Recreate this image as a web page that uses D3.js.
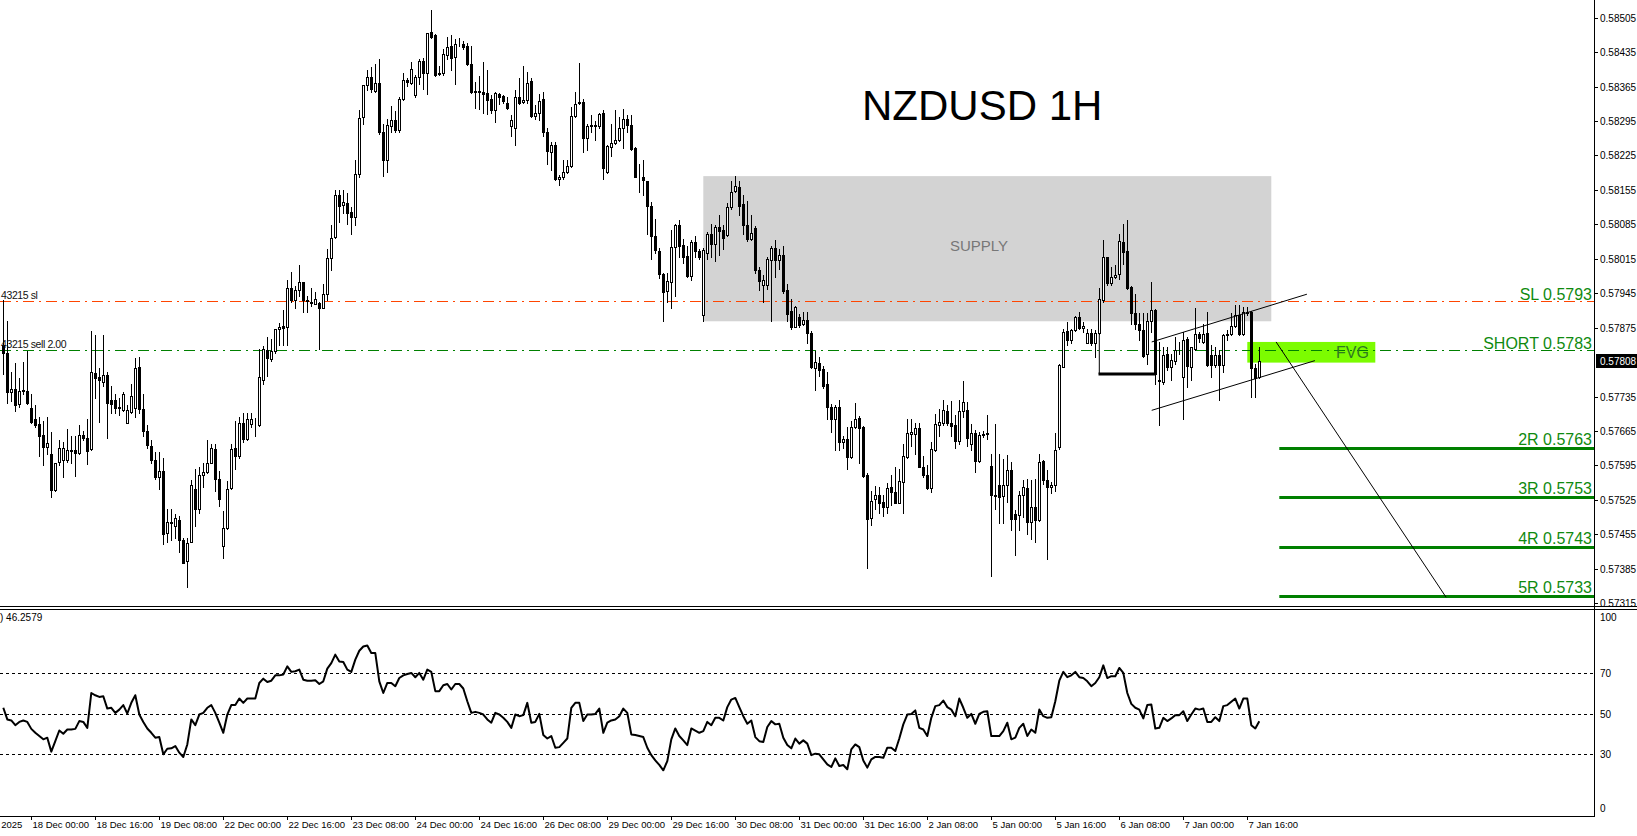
<!DOCTYPE html>
<meta charset="utf-8">
<style>
body { margin: 0; background: #fff; }
svg { display: block; font-family: "Liberation Sans", Arial, sans-serif; }
.axis-text { font-size: 10px; fill: #000; }
.time-text { font-size: 9.5px; fill: #000; }
.order-text { font-size: 10.5px; fill: #111; letter-spacing: -0.4px; }
</style>
<body>
<script src="https://d3js.org/d3.v7.min.js"></script>
<script>

var width = 1637, height = 836,
    plotRight = 1594,
    mainBottom = 606,
    rsiTop = 611, rsiBottom = 816;

// NZDUSD H1 quotes, in points (1 point = 0.00001)
var open = [
  57840,57824,57745,57751,57720,57747,57747,57712,57690,57679,
  57656,57632,57618,57545,57601,57606,57606,57626,57626,57621,
  57656,57650,57629,57783,57774,57765,57779,57729,57728,57711,
  57708,57682,57704,57711,57795,57709,57666,57634,57606,57571,
  57584,57458,57481,57472,57485,57444,57400,57440,57547,57507,
  57575,57581,57600,57629,57567,57432,57468,57549,57630,57614,
  57682,57648,57680,57690,57678,57769,57830,57812,57828,57872,
  57878,57876,57955,57931,57951,57967,57931,57927,57923,57925,
  57915,57943,58016,58060,58145,58125,58128,58111,58099,58187,
  58303,58368,58384,58357,58373,58272,58216,58284,58297,58277,
  58339,58379,58373,58347,58384,58417,58392,58476,58470,58390,
  58392,58430,58448,58426,58452,58451,58448,58410,58356,58353,
  58354,58351,58339,58318,58349,58345,58331,58285,58280,58343,
  58333,58337,58377,58306,58311,58339,58272,58232,58246,58177,
  58181,58192,58204,58306,58331,58333,58260,58284,58286,58284,
  58311,58192,58242,58250,58257,58280,58299,58286,58240,58182,
  58182,58173,58123,58062,58030,57984,57949,57968,58038,58083,
  58044,58020,57980,58050,58030,57901,58026,58066,58046,58080,
  58074,58063,58120,58153,58161,58127,58084,58056,58078,57993,
  57961,57961,58013,58036,58012,58022,57951,57909,57877,57896,
  57882,57891,57864,57793,57803,57790,57761,57713,57690,57713,
  57642,57648,57613,57674,57692,57674,57576,57488,57526,57534,
  57521,57511,57551,57541,57519,57561,57613,57658,57658,57671,
  57592,57576,57549,57626,57678,57682,57705,57682,57678,57645,
  57706,57707,57639,57661,57605,57656,57659,57593,57534,57555,
  57532,57555,57586,57497,57494,57534,57550,57480,57511,57485,
  57605,57566,57551,57555,57633,57795,57868,57850,57871,57896,
  57875,57843,57864,57843,57864,57932,58018,57965,57978,57984,
  58050,58031,57957,57904,57882,57870,57822,57889,57911,57768,
  57765,57822,57795,57808,57829,57774,57851,57795,57831,57863,
  57846,57864,57819,57799,57819,57799,57860,57863,57878,57900,
  57863,57907,57907,57794,57774
];
var high = [
  57931,57888,57785,57804,57773,57806,57828,57741,57717,57694,
  57686,57694,57663,57599,57646,57642,57670,57654,57654,57678,
  57666,57690,57868,57860,57793,57860,57785,57757,57741,57733,
  57745,57717,57761,57814,57816,57741,57678,57646,57622,57622,
  57610,57507,57507,57496,57492,57448,57448,57565,57587,57591,
  57599,57646,57638,57638,57583,57503,57563,57638,57686,57694,
  57701,57701,57701,57692,57832,57838,57856,57852,57872,57885,
  57911,57971,57988,57959,58002,57967,57939,57955,57947,57928,
  57964,58034,58084,58155,58155,58155,58149,58121,58216,58318,
  58368,58398,58405,58410,58421,58288,58299,58326,58315,58343,
  58392,58383,58416,58389,58422,58424,58473,58521,58471,58406,
  58442,58466,58470,58462,58463,58458,58454,58448,58375,58387,
  58416,58398,58347,58355,58351,58347,58343,58307,58359,58383,
  58406,58394,58383,58327,58349,58355,58280,58252,58252,58186,
  58216,58216,58323,58355,58413,58339,58288,58307,58295,58311,
  58318,58246,58289,58318,58303,58319,58307,58307,58242,58208,
  58216,58173,58131,58096,58036,57987,57987,58074,58086,58094,
  58056,58042,58054,58062,58034,58036,58070,58086,58083,58105,
  58083,58128,58173,58183,58173,58145,58133,58105,58082,57998,
  57983,58018,58042,58054,58034,58040,57963,57933,57919,57903,
  57906,57907,57868,57828,57816,57797,57785,57719,57717,57729,
  57654,57674,57686,57721,57695,57676,57579,57543,57553,57551,
  57535,57560,57575,57591,57587,57638,57690,57690,57682,57682,
  57614,57595,57642,57700,57709,57727,57717,57725,57697,57729,
  57766,57724,57680,57668,57663,57666,57697,57619,57680,57619,
  57609,57616,57602,57504,57544,57565,57568,57565,57568,57619,
  57607,57585,57561,57660,57802,57873,57887,57873,57898,57907,
  57887,57873,57872,57870,57955,58053,58019,57999,58002,58066,
  58085,58094,57959,57943,57904,57904,57904,57968,57912,57846,
  57836,57836,57822,57856,57846,57866,57856,57836,57914,57866,
  57883,57907,57839,57836,57829,57863,57870,57904,57921,57921,
  57917,57917,57908,57802,57836
];
var low = [
  57781,57721,57725,57705,57713,57741,57719,57682,57674,57614,
  57595,57618,57531,57543,57595,57571,57602,57599,57573,57618,
  57646,57597,57626,57733,57683,57757,57650,57701,57701,57697,
  57705,57682,57701,57694,57701,57654,57630,57599,57567,57547,
  57436,57440,57444,57448,57420,57397,57347,57440,57472,57499,
  57551,57579,57599,57543,57513,57407,57466,57547,57587,57610,
  57642,57646,57674,57654,57676,57761,57777,57808,57824,57840,
  57840,57840,57927,57915,57939,57907,57907,57919,57923,57832,
  57915,57931,57993,58058,58090,58109,58086,58066,58083,58181,
  58289,58359,58355,58355,58268,58183,58192,58272,58272,58272,
  58337,58367,58371,58343,58371,58360,58349,58463,58387,58389,
  58389,58422,58398,58371,58448,58442,58408,58351,58321,58319,
  58311,58310,58311,58294,58329,58331,58319,58264,58246,58329,
  58331,58331,58303,58299,58297,58264,58208,58196,58175,58165,
  58177,58189,58202,58303,58329,58232,58236,58272,58256,58280,
  58178,58189,58224,58248,58254,58240,58272,58236,58181,58151,
  58145,58066,58014,58026,57975,57888,57927,57915,57939,58018,
  58006,57977,57972,58018,58014,57888,58014,58018,58010,58022,
  58034,58062,58117,58151,58105,58066,58052,58054,57987,57951,
  57927,57953,57888,57979,57995,57945,57888,57872,57876,57876,
  57880,57844,57793,57749,57777,57753,57690,57662,57626,57626,
  57630,57587,57610,57671,57599,57571,57386,57473,57507,57499,
  57492,57499,57515,57518,57519,57499,57610,57634,57618,57591,
  57571,57547,57541,57624,57654,57678,57678,57654,57630,57638,
  57694,57635,57626,57582,57602,57653,57649,57371,57507,57477,
  57477,57521,57463,57412,57463,57490,57456,57446,57439,57483,
  57558,57405,57538,57544,57629,57795,57839,57843,57868,57873,
  57866,57843,57839,57816,57863,57928,57961,57961,57975,57973,
  58005,57953,57883,57873,57850,57816,57802,57867,57760,57677,
  57761,57788,57768,57802,57822,57690,57755,57768,57829,57846,
  57843,57797,57775,57795,57729,57785,57850,57860,57877,57860,
  57860,57900,57734,57734,57772
];
var close = [
  57824,57745,57751,57717,57747,57749,57721,57684,57678,57654,
  57632,57640,57545,57599,57630,57630,57626,57624,57621,57656,
  57650,57624,57785,57773,57769,57779,57721,57720,57711,57713,
  57740,57707,57736,57794,57709,57664,57636,57606,57571,57584,
  57456,57481,57477,57488,57444,57397,57438,57555,57507,57576,
  57581,57600,57630,57567,57526,57468,57547,57629,57614,57682,
  57648,57690,57690,57689,57774,57832,57814,57828,57872,57876,
  57874,57955,57931,57951,57967,57931,57929,57925,57933,57915,
  57943,58016,58058,58145,58123,58131,58109,58099,58187,58302,
  58368,58385,58360,58373,58273,58215,58286,58297,58277,58339,
  58379,58374,58400,58384,58417,58392,58473,58466,58389,58392,
  58432,58446,58424,58452,58451,58446,58410,58355,58354,58357,
  58349,58337,58318,58352,58343,58335,58321,58298,58343,58331,
  58337,58373,58305,58311,58335,58272,58234,58246,58177,58181,
  58192,58204,58306,58329,58333,58260,58284,58286,58285,58310,
  58200,58244,58250,58257,58280,58299,58286,58238,58182,58181,
  58175,58123,58062,58032,57984,57947,57969,58038,58083,58042,
  58018,57980,58050,58030,58018,58032,58066,58046,58079,58071,
  58058,58120,58151,58162,58123,58083,58056,58068,57993,57969,
  57971,58014,58036,58012,58022,57949,57903,57877,57918,57880,
  57890,57864,57795,57806,57789,57757,57713,57690,57713,57642,
  57648,57613,57674,57690,57671,57573,57486,57523,57534,57519,
  57511,57549,57541,57519,57563,57614,57660,57662,57672,57592,
  57576,57549,57629,57679,57683,57708,57682,57676,57645,57706,
  57724,57650,57661,57605,57656,57659,57661,57534,57533,57531,
  57555,57586,57487,57487,57534,57551,57480,57511,57485,57602,
  57565,57551,57555,57627,57799,57866,57850,57871,57896,57875,
  57879,57864,57843,57864,57934,58018,57965,57977,57983,58052,
  58029,57955,57904,57882,57870,57818,57889,57911,57780,57766,
  57819,57795,57809,57829,57830,57850,57797,57836,57863,57853,
  57863,57799,57799,57819,57799,57860,57863,57878,57900,57863,
  57907,57904,57794,57772,57808
];

// RSI(14) per bar
var rsi = [
  52.8,47.1,46.6,44.3,45.9,46.6,45.9,42.5,40.6,39.0,
  37.4,38.2,31.4,36.5,41.7,40.1,42.2,42.2,42.5,46.3,
  45.9,43.0,60.0,58.9,58.1,58.4,52.4,52.8,50.3,51.9,
  54.1,50.0,55.2,58.9,49.5,45.9,42.7,40.6,38.2,38.5,
  30.1,32.8,33.0,34.1,30.9,28.8,34.9,47.1,44.3,49.5,
  50.3,52.8,54.1,50.3,45.5,40.6,49.5,54.1,54.1,57.3,
  55.2,57.3,57.3,57.3,64.9,67.0,65.4,66.0,68.6,68.6,
  69.0,73.0,70.3,70.6,71.4,66.5,66.0,66.0,66.2,64.4,
  65.7,71.9,74.6,78.7,75.4,75.1,71.4,70.3,76.3,80.6,
  82.7,83.2,79.5,79.5,65.7,60.0,64.9,64.9,63.3,67.3,
  68.6,69.3,69.8,67.7,69.8,66.5,71.4,70.3,60.9,60.9,
  63.8,64.4,61.7,64.4,64.4,62.2,56.0,50.3,50.8,50.3,
  49.5,47.1,45.5,50.3,49.5,47.9,45.9,43.0,49.5,48.7,
  49.2,55.2,45.5,45.9,49.8,39.5,37.8,39.0,33.3,33.6,
  35.7,37.8,52.8,55.2,55.2,46.3,49.5,49.5,49.8,52.4,
  40.6,45.5,46.6,47.1,48.7,52.4,50.3,39.8,39.5,39.0,
  38.5,33.3,29.7,27.1,24.9,22.3,26.8,37.4,42.7,39.0,
  36.9,34.6,42.7,41.7,40.6,41.4,45.9,44.3,47.9,47.9,
  46.6,53.1,56.8,57.6,53.1,48.7,45.0,46.6,38.5,36.5,
  36.1,43.4,46.3,44.7,45.0,38.2,34.6,33.0,37.8,35.3,
  36.9,35.3,29.7,30.4,30.1,27.6,25.2,23.9,28.1,24.4,
  24.9,22.8,32.5,34.9,33.6,27.1,23.6,27.6,28.8,28.8,
  28.4,33.3,33.3,31.7,37.8,44.7,49.5,49.8,51.5,43.0,
  42.2,39.0,47.9,53.6,54.1,56.3,53.1,51.9,48.7,57.3,
  52.8,47.9,49.8,45.0,49.8,50.8,51.1,39.0,39.0,39.0,
  41.4,45.5,37.4,38.2,43.0,45.0,39.0,42.2,40.6,51.9,
  48.7,47.9,48.2,56.0,66.0,70.3,67.7,68.6,70.3,67.7,
  67.3,65.7,63.3,64.9,67.7,73.5,67.3,68.2,68.2,72.2,
  69.8,60.0,54.7,52.8,51.9,47.6,54.1,54.4,42.7,43.0,
  47.9,46.3,47.6,49.2,49.2,51.1,46.3,49.5,52.4,51.9,
  52.4,45.9,45.9,48.2,46.3,53.6,54.1,55.7,57.3,52.4,
  57.3,57.3,44.3,42.7,46.26
];

var priceTicks = ["0.58505","0.58435","0.58365","0.58295","0.58225","0.58155",
                  "0.58085","0.58015","0.57945","0.57875","0.57735","0.57665",
                  "0.57595","0.57525","0.57455","0.57385","0.57315"];
var lastPrice = "0.57808";

var timeLabels = ["17 Dec 2025","18 Dec 00:00","18 Dec 16:00","19 Dec 08:00","22 Dec 00:00",
                  "22 Dec 16:00","23 Dec 08:00","24 Dec 00:00","24 Dec 16:00","26 Dec 08:00",
                  "29 Dec 00:00","29 Dec 16:00","30 Dec 08:00","31 Dec 00:00","31 Dec 16:00",
                  "2 Jan 08:00","5 Jan 00:00","5 Jan 16:00","6 Jan 08:00","7 Jan 00:00","7 Jan 16:00"];
var timeLabelBars = [-9,7,23,39,55,71,87,103,119,135,151,167,183,199,215,231,247,263,279,295,311];

var rsiLevels = [70, 50, 30];
var rsiScaleLabels = ["100", "70", "50", "30", "0"];
var rsiScaleValues = [100, 70, 50, 30, 0];
var rsiCurrent = "46.2579";

// trade levels
var levelNames  = ["SL 0.5793", "SHORT 0.5783", "2R 0.5763", "3R 0.5753", "4R 0.5743", "5R 0.5733"];
var levelPrices = [0.5793, 0.5783, 0.5763, 0.5753, 0.5743, 0.5733];
var orderNotes = ["43215 sl", "43215 sell 2.00"];
var targetStartBar = 319;

// zones and drawn lines: [bar, price]
var supplyZone = {from: 175, to: 317, top: 0.58183, bottom: 0.57888};
var fvgZone = {from: 311, to: 343, top: 0.57846, bottom: 0.57804};
var channelUpper = [[287.1, 0.57846], [325.9, 0.57943]];
var channelLower = [[287.1, 0.57707], [327.9, 0.57808]];
var projection = [[318.2, 0.57846], [360.7, 0.57327]];
var bosLine = [[273.8, 0.57781], [288, 0.57781]];
var bosLeg = [[274, 0.57863], [274, 0.57781]];

var pt = function(v) { return v / 1e5; };

var x = d3.scaleLinear().domain([-0.825, 397.675]).range([0, plotRight]);
var y = d3.scaleLinear().domain([0.573093, 0.585410]).range([mainBottom, 0]);
var yr = d3.scaleLinear().domain([0, 100]).range([rsiBottom, rsiTop]);

var svg = d3.select("body").append("svg")
    .attr("width", width)
    .attr("height", height);

var defs = svg.append("defs");
defs.append("clipPath").attr("id", "clipMain")
  .append("rect").attr("x", 0).attr("y", 0).attr("width", plotRight).attr("height", mainBottom);
defs.append("clipPath").attr("id", "clipRsi")
  .append("rect").attr("x", 0).attr("y", rsiTop - 2).attr("width", plotRight).attr("height", rsiBottom - rsiTop + 2);

var main = svg.append("g").attr("clip-path", "url(#clipMain)");

// background zones
main.append("rect")
    .attr("x", x(supplyZone.from)).attr("y", y(supplyZone.top))
    .attr("width", x(supplyZone.to) - x(supplyZone.from))
    .attr("height", y(supplyZone.bottom) - y(supplyZone.top))
    .attr("fill", "#d3d3d3");
main.append("rect")
    .attr("x", x(fvgZone.from)).attr("y", y(fvgZone.top))
    .attr("width", x(fvgZone.to) - x(fvgZone.from))
    .attr("height", y(fvgZone.bottom) - y(fvgZone.top))
    .attr("fill", "#7cfc00");

main.append("text")
    .attr("x", 979).attr("y", 251)
    .attr("text-anchor", "middle")
    .style("font-size", "15px").attr("fill", "#777")
    .text("SUPPLY");

// order lines
main.append("line")
    .attr("x1", 0).attr("x2", plotRight)
    .attr("y1", Math.round(y(levelPrices[0])) + 0.5).attr("y2", Math.round(y(levelPrices[0])) + 0.5)
    .attr("stroke", "#ff4500").attr("stroke-dasharray", "11,5,2,5");
main.append("line")
    .attr("x1", 0).attr("x2", plotRight)
    .attr("y1", Math.round(y(levelPrices[1])) + 0.5).attr("y2", Math.round(y(levelPrices[1])) + 0.5)
    .attr("stroke", "#008000").attr("stroke-dasharray", "11,5,2,5");

// targets
main.selectAll("line.target").data(levelPrices.slice(2)).join("line")
    .attr("class", "target")
    .attr("x1", x(targetStartBar)).attr("x2", plotRight)
    .attr("y1", function(d) { return Math.round(y(d)) + 0.5; })
    .attr("y2", function(d) { return Math.round(y(d)) + 0.5; })
    .attr("stroke", "#008000").attr("stroke-width", 3);

// candles
var bars = d3.range(open.length);
var candle = main.append("g");
candle.selectAll("line.wick").data(bars).join("line")
    .attr("class", "wick")
    .attr("x1", function(i) { return Math.round(x(i)) + 0.5; })
    .attr("x2", function(i) { return Math.round(x(i)) + 0.5; })
    .attr("y1", function(i) { return Math.round(y(pt(Math.max(high[i], open[i], close[i])))); })
    .attr("y2", function(i) { return Math.round(y(pt(Math.min(low[i], open[i], close[i])))) + 1; })
    .attr("stroke", "#000");
candle.selectAll("rect.body").data(bars).join("rect")
    .attr("class", "body")
    .attr("x", function(i) { return Math.round(x(i)) - 0.5; })
    .attr("y", function(i) { return Math.round(y(pt(Math.max(open[i], close[i])))) + 0.5; })
    .attr("width", 2)
    .attr("height", function(i) {
      return Math.round(y(pt(Math.min(open[i], close[i])))) - Math.round(y(pt(Math.max(open[i], close[i]))));
    })
    .attr("fill", function(i) { return close[i] >= open[i] ? "#fff" : "#000"; })
    .attr("stroke", "#000");

// drawn lines
var seg = d3.line().x(function(d) { return x(d[0]); }).y(function(d) { return y(d[1]); });
[channelUpper, channelLower, projection, bosLeg].forEach(function(s) {
  main.append("path").attr("d", seg(s)).attr("fill", "none").attr("stroke", "#000").attr("stroke-width", 1);
});
main.append("path").attr("d", seg(bosLine)).attr("fill", "none").attr("stroke", "#000").attr("stroke-width", 3);

// texts on chart
main.append("text")
    .attr("x", 862).attr("y", 120)
    .style("font-size", "42px").attr("fill", "#000")
    .text("NZDUSD 1H");

main.append("text")
    .attr("x", 1336).attr("y", 358)
    .style("font-size", "16px").attr("fill", "#2e7a22")
    .text("FVG");

main.selectAll("text.level").data(levelNames).join("text")
    .attr("class", "level")
    .attr("x", plotRight - 2)
    .attr("y", function(d, k) { return Math.round(y(levelPrices[k])) - (k < 2 ? 1 : 3); })
    .attr("text-anchor", "end")
    .style("font-size", "16px").attr("fill", "#0f8a0f")
    .text(function(d) { return d; });

main.selectAll("text.order").data(orderNotes).join("text")
    .attr("class", "order-text")
    .attr("x", 1)
    .attr("y", function(d, k) { return Math.round(y(levelPrices[k])) - 2; })
    .text(function(d) { return d; });

// panel borders
svg.append("line").attr("x1", 0).attr("x2", width).attr("y1", mainBottom + 0.5).attr("y2", mainBottom + 0.5).attr("stroke", "#000");
svg.append("line").attr("x1", 0).attr("x2", width).attr("y1", mainBottom + 3.5).attr("y2", mainBottom + 3.5).attr("stroke", "#000");
svg.append("line").attr("x1", plotRight + 0.5).attr("x2", plotRight + 0.5).attr("y1", 0).attr("y2", rsiBottom + 1).attr("stroke", "#000");
svg.append("line").attr("x1", 0).attr("x2", plotRight).attr("y1", rsiBottom + 0.5).attr("y2", rsiBottom + 0.5).attr("stroke", "#000");

// price scale
var priceAxis = svg.append("g");
priceTicks.forEach(function(t) {
  var yy = Math.round(y(+t)) + 0.5;
  priceAxis.append("line").attr("x1", plotRight).attr("x2", plotRight + 4).attr("y1", yy).attr("y2", yy).attr("stroke", "#000");
  priceAxis.append("text").attr("class", "axis-text")
      .attr("x", plotRight + 6).attr("y", yy + 3.5).text(t);
});
var yLast = Math.round(y(+lastPrice));
priceAxis.append("rect").attr("x", plotRight + 2).attr("y", yLast - 7).attr("width", width - plotRight - 2).attr("height", 14).attr("fill", "#000");
priceAxis.append("text").attr("class", "axis-text").style("fill", "#fff")
    .attr("x", plotRight + 6).attr("y", yLast + 3.5).text(lastPrice);

// RSI panel
var rsiG = svg.append("g");
rsiG.selectAll("line.level").data(rsiLevels).join("line")
    .attr("x1", 0).attr("x2", plotRight)
    .attr("y1", function(d) { return Math.round(yr(d)) + 0.5; })
    .attr("y2", function(d) { return Math.round(yr(d)) + 0.5; })
    .attr("stroke", "#000").attr("stroke-dasharray", "3,3");
rsiG.append("path")
    .attr("clip-path", "url(#clipRsi)")
    .attr("d", d3.line().x(function(d, i) { return x(i); }).y(function(d) { return yr(d); })(rsi))
    .attr("fill", "none").attr("stroke", "#000").attr("stroke-width", 2).attr("stroke-linejoin", "round");
rsiG.append("text").attr("class", "axis-text")
    .attr("x", 0).attr("y", rsiTop + 10).text(") " + rsiCurrent);
rsiScaleValues.forEach(function(v, k) {
  var yy = Math.round(yr(v));
  if (v === 100) yy = rsiTop + 6;
  if (v === 0) yy = rsiBottom - 8;
  rsiG.append("text").attr("class", "axis-text")
      .attr("x", plotRight + 6).attr("y", yy + 3.5).text(rsiScaleLabels[k]);
});

// time scale
var timeAxis = svg.append("g");
timeLabels.forEach(function(t, k) {
  var xx = Math.round(x(timeLabelBars[k])) + 0.5;
  timeAxis.append("line").attr("x1", xx).attr("x2", xx).attr("y1", rsiBottom).attr("y2", rsiBottom + 4).attr("stroke", "#000");
  timeAxis.append("text").attr("class", "time-text")
      .attr("x", xx + 1).attr("y", rsiBottom + 12).text(t);
});

</script>
</body>
</html>
